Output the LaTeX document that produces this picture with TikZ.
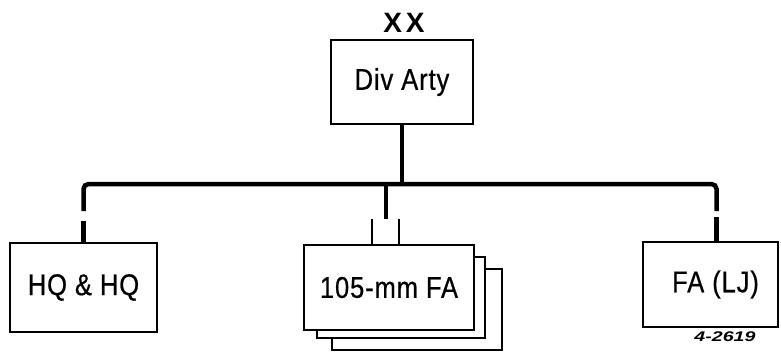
\documentclass[tikz,border=0pt]{standalone}
\usepackage{fontspec}
\setmainfont{Liberation Sans}
\newfontfamily\condfont[FakeStretch=0.85,FakeBold=0.6,LetterSpace=3]{Liberation Sans}
\usetikzlibrary{calc}
\begin{document}
\begin{tikzpicture}[x=1pt,y=-1pt,
  box/.style={draw,line width=2pt,fill=white,rectangle,inner sep=0pt,font=\condfont\fontsize{30}{34}\selectfont},
  conn/.style={line width=4.5pt},
  tick/.style={line width=2.2pt}]
\useasboundingbox[fill=white] (0,0) rectangle (781,353);
\node[box,minimum width=142pt,minimum height=84pt] (arty) at (402,82) {\raisebox{-1pt}{Div Arty}};
\node[font=\bfseries\fontsize{28}{32}\selectfont,inner sep=0pt] (xx) at (404,23) {X\hspace{4pt}X};
\node[box,minimum width=147pt,minimum height=89pt] (hq) at (83.5,287.5) {HQ \& HQ};
\node[box,minimum width=170pt,minimum height=81pt] (fa3) at (416.5,309) {};
\node[box,minimum width=168pt,minimum height=81pt] (fa2) at (401,297.5) {};
\node[box,minimum width=170pt,minimum height=85pt] (fa) at (389,287.5) {105-mm FA};
\node[box,minimum width=135pt,minimum height=85pt] (lj) at (710.5,284.5) {\hspace{10pt}FA (LJ)};
\node[font=\bfseries\itshape\fontsize{14}{16}\selectfont,inner sep=0pt] (code) at (725,337) {\scalebox{1.4}[1]{4-2619}};
\coordinate (barY) at (0,184);
\draw[conn] (arty.south) -- (arty.south |- barY);
\draw[conn,rounded corners=5pt] ($(hq.north)+(0,-31)$) |- ($(lj.north |- barY)+(6,0)$) -- ($(lj.north)+(6,-30)$);
\draw[conn] (hq.north) -- ++(0,-21);
\draw[conn] ($(lj.north)+(6,0)$) -- ++(0,-24);
\draw[conn] ($(fa.north |- barY)+(-3,0)$) -- ($(fa.north)+(-3,-25)$);
\draw[tick] ($(fa.north)+(-17,0)$) -- ++(0,-25);
\draw[tick] ($(fa.north)+(10,0)$) -- ++(0,-25);
\end{tikzpicture}
\end{document}
